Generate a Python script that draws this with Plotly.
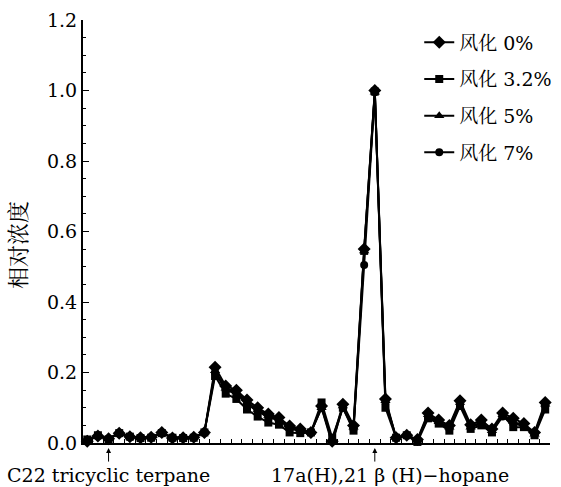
import plotly.graph_objects as go

idx = list(range(44))
series_names = ["风化 0%", "风化 3.2%", "风化 5%", "风化 7%"]
w0 = [0.005, 0.02, 0.012, 0.028, 0.018, 0.015, 0.016, 0.03, 0.014, 0.015, 0.016, 0.03,
      0.215, 0.162, 0.15, 0.122, 0.1, 0.082, 0.072, 0.048, 0.04, 0.03, 0.105, 0.005,
      0.11, 0.05, 0.55, 1.0, 0.125, 0.015, 0.022, 0.01, 0.085, 0.065, 0.05, 0.12,
      0.052, 0.065, 0.04, 0.085, 0.07, 0.055, 0.03, 0.115]
w32 = [0.01, 0.022, 0.01, 0.028, 0.018, 0.014, 0.015, 0.028, 0.015, 0.014, 0.015, 0.03,
       0.19, 0.14, 0.125, 0.095, 0.075, 0.058, 0.052, 0.03, 0.028, 0.03, 0.115, 0.015,
       0.1, 0.035, 0.545, 0.997, 0.1, 0.015, 0.022, 0.003, 0.07, 0.055, 0.035, 0.105,
       0.04, 0.05, 0.03, 0.08, 0.045, 0.045, 0.022, 0.095]
w5 = [0.01, 0.02, 0.012, 0.03, 0.017, 0.016, 0.016, 0.03, 0.015, 0.016, 0.016, 0.03,
      0.205, 0.155, 0.145, 0.115, 0.095, 0.078, 0.068, 0.045, 0.038, 0.03, 0.1, -0.003,
      0.105, 0.045, 0.545, 0.995, 0.12, 0.015, 0.022, 0.008, 0.08, 0.06, 0.045, 0.115,
      0.045, 0.06, 0.035, 0.08, 0.06, 0.05, 0.025, 0.11]
w7 = [0.008, 0.02, 0.012, 0.027, 0.016, 0.015, 0.015, 0.028, 0.014, 0.015, 0.015, 0.03,
      0.2, 0.15, 0.14, 0.11, 0.09, 0.072, 0.065, 0.04, 0.035, 0.03, 0.1, 0.005,
      0.1, 0.04, 0.505, 0.995, 0.115, 0.016, 0.022, 0.008, 0.075, 0.058, 0.04, 0.11,
      0.045, 0.055, 0.032, 0.075, 0.055, 0.048, 0.025, 0.105]
label_pos = [2, 27]
label_text = ["C22 tricyclic terpane", "17a(H),21 β (H)−hopane"]
y_title = "相对浓度"

symbols = ["diamond", "square", "triangle-up", "circle"]
sizes = [10, 8, 9, 8]
serif = "DejaVu Serif, Liberation Serif, serif"
cjk = "DejaVu Serif, Noto Serif CJK SC, Noto Sans CJK SC, serif"

fig = go.Figure()
for i, (name, vals) in enumerate(zip(series_names, [w0, w32, w5, w7])):
    fig.add_trace(go.Scatter(
        x=idx, y=vals, name=name, mode="lines+markers",
        line=dict(color="black", width=2),
        marker=dict(symbol=symbols[i], size=sizes[i], color="black"),
        cliponaxis=False, legendgroup=name,
    ))

for p, t in zip(label_pos, label_text):
    fig.add_annotation(x=p, y=-0.012, xref="x", yref="paper", text="",
                       showarrow=True, arrowhead=2, arrowsize=1, arrowwidth=1,
                       ax=0, ay=15, arrowcolor="black")
fig.add_annotation(x=label_pos[0], y=-0.075, xref="x", yref="paper", text=label_text[0],
                   showarrow=False, yanchor="middle", xanchor="center",
                   font=dict(family=serif, size=19, color="black"))
fig.add_annotation(x=label_pos[1] + 1.4, y=-0.075, xref="x", yref="paper", text=label_text[1],
                   showarrow=False, yanchor="middle", xanchor="center",
                   font=dict(family=serif, size=19, color="black"))
fig.add_annotation(x=-0.139, y=0.468, xref="paper", yref="paper", text=y_title,
                   showarrow=False, textangle=-90, xanchor="center", yanchor="middle",
                   font=dict(family=cjk, size=22, color="black"))

fig.update_layout(
    width=561, height=487,
    margin=dict(l=83, r=11, t=20, b=44, autoexpand=False),
    paper_bgcolor="white", plot_bgcolor="white",
    showlegend=True,
    legend=dict(x=0.72, y=0.992, xanchor="left", yanchor="top",
                font=dict(family=cjk, size=19, color="black"),
                tracegroupgap=9, traceorder="grouped", bgcolor="rgba(0,0,0,0)"),
    xaxis=dict(range=[-0.4, 43.45], showgrid=False, zeroline=False,
               showline=True, linecolor="black", linewidth=2,
               ticks="inside", ticklen=4, tickwidth=1, tickcolor="black",
               tickmode="linear", tick0=0.5, dtick=1, showticklabels=False),
    yaxis=dict(range=[0, 1.2], showgrid=False, zeroline=False,
               showline=True, linecolor="black", linewidth=2,
               ticks="inside", ticklen=6, tickwidth=1, tickcolor="black",
               tickmode="linear", tick0=0, dtick=0.2, tickformat=".1f",
               tickfont=dict(family=serif, size=19, color="black"),
               minor=dict(ticks="inside", ticklen=3, tickcolor="black", dtick=0.05)),
)

fig.write_html("out.html")
